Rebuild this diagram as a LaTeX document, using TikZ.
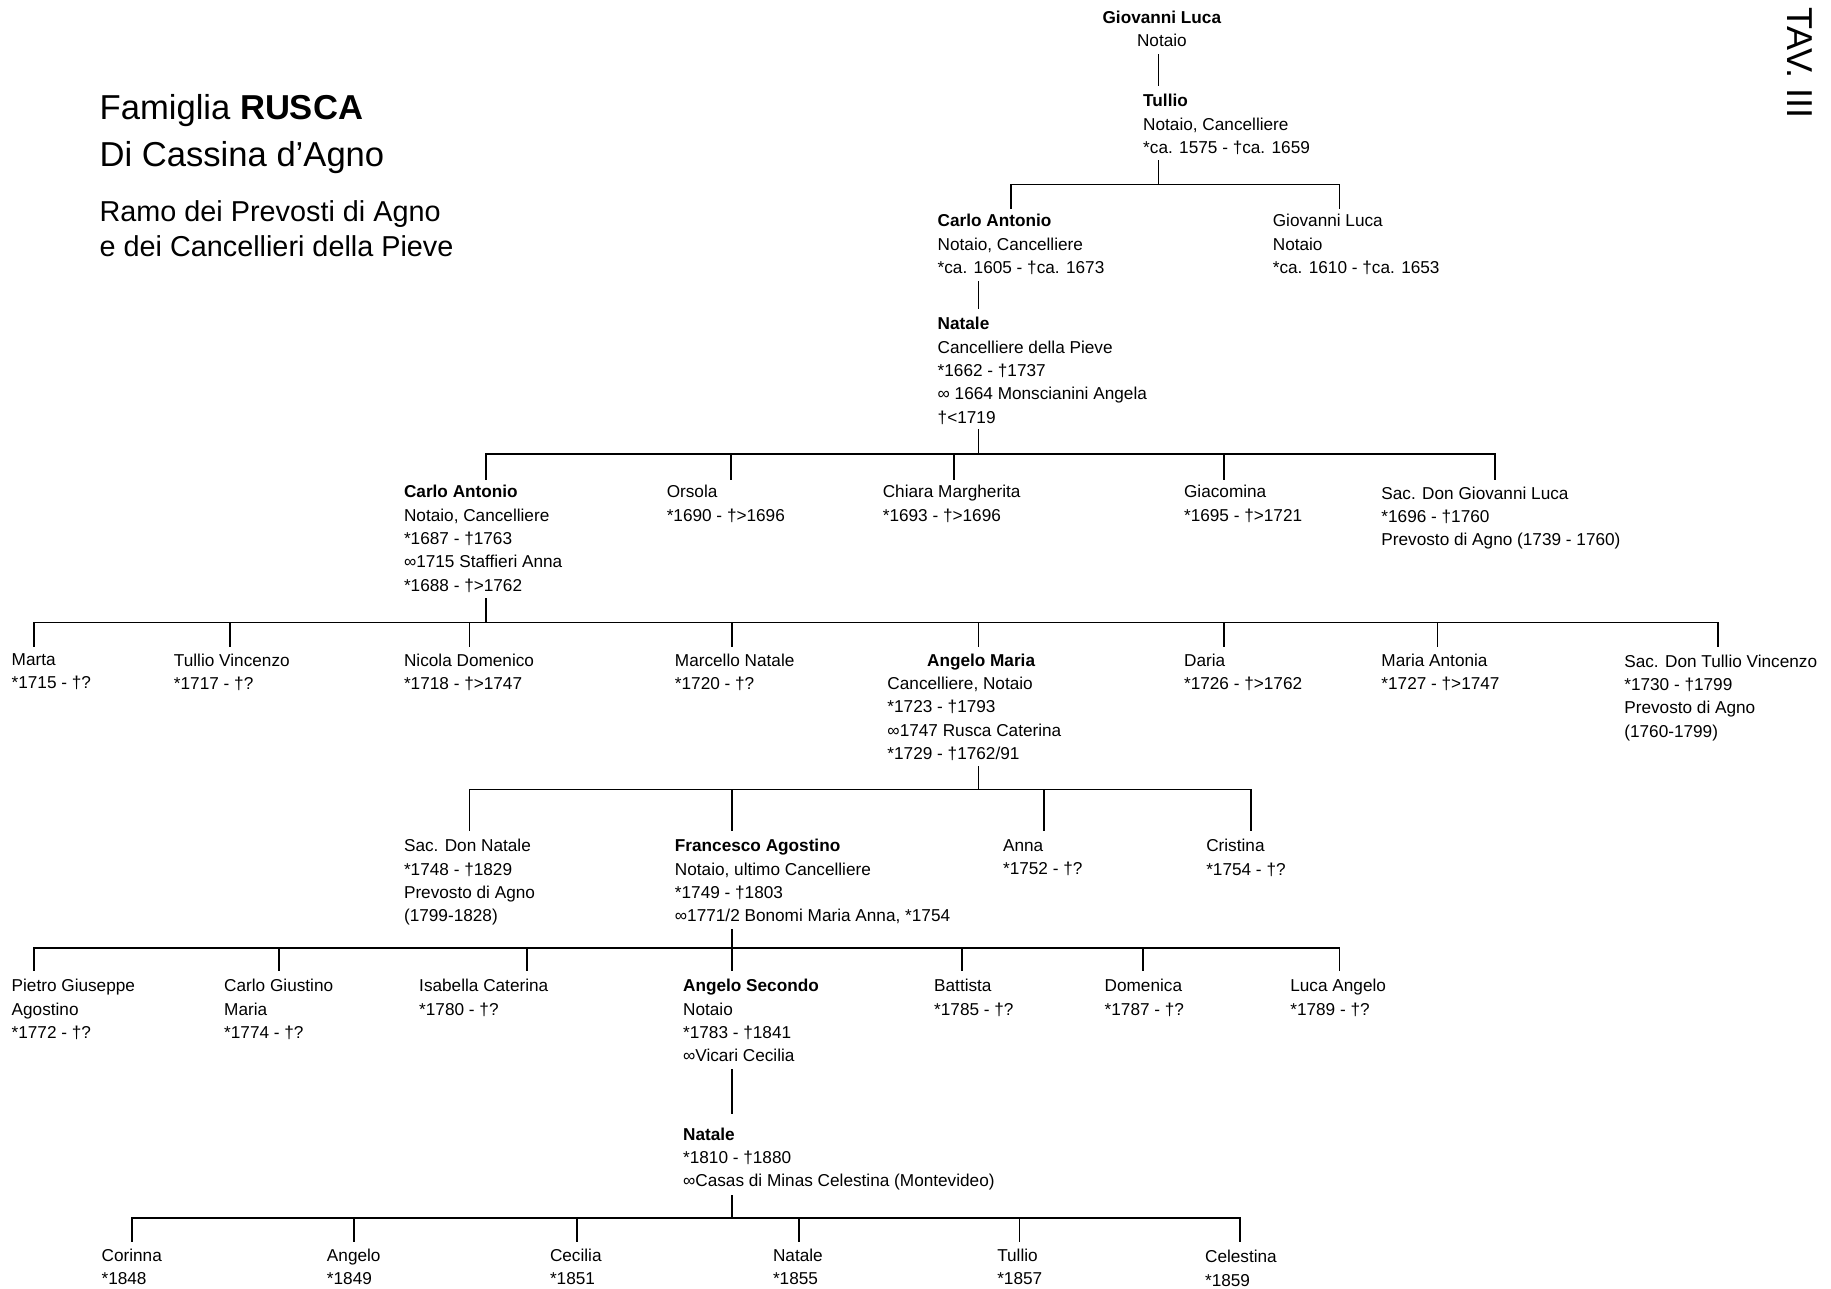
\documentclass[tikz,border=0pt]{standalone}
\usepackage{fontspec}
\setmainfont{Liberation Sans}
\newcommand\bodyfont{\fontsize{8.6}{11.68}\selectfont}
\begin{document}
\begin{tikzpicture}[x=0.58385pt,y=-0.58385pt,
  person/.style={anchor=north west,inner sep=0pt,outer sep=0pt,align=left,font=\bodyfont},
  conn/.style={line width=0.9pt,line cap=rect}]
\useasboundingbox (0,0) rectangle (1568,1103);

% titles
\node[anchor=north west,inner sep=0pt,align=left,font=\fontsize{17.3}{23.35}\selectfont] (title) at (85,80.4) {Famiglia \textbf{RUSCA}\\Di Cassina d’Agno};
\node[anchor=north west,inner sep=0pt,align=left,font=\fontsize{14.4}{17.5}\selectfont] (subtitle) at (85,171.2) {Ramo dei Prevosti di Agno\\e dei Cancellieri della Pieve};
\node[rotate=-90,inner sep=0pt,font=\fontsize{18}{20}\selectfont] (tav) at (1541,54) {TAV. III};

% generation 1-3
\node[anchor=north,inner sep=0pt,align=center,font=\bodyfont] (gl1) at (995,8.7) {\textbf{Giovanni Luca}\\Notaio};
\node[person] (tul) at (979,80.7) {\textbf{Tullio}\\Notaio, Cancelliere\\*ca. 1575 - †ca. 1659};
\node[person] (ca1) at (803,183.7) {\textbf{Carlo Antonio}\\Notaio, Cancelliere\\*ca. 1605 - †ca. 1673};
\node[person] (gl2) at (1090,183.7) {Giovanni Luca\\Notaio\\*ca. 1610 - †ca. 1653};
\node[person] (nat1) at (803,271.7) {\textbf{Natale}\\Cancelliere della Pieve\\*1662 - †1737\\∞ 1664 Monscianini Angela\\†<1719};

% generation 4
\node[person] (ca2) at (346,415.7) {\textbf{Carlo Antonio}\\Notaio, Cancelliere\\*1687 - †1763\\∞1715 Staffieri Anna\\*1688 - †>1762};
\node[person] (ors) at (571,415.7) {Orsola\\*1690 - †>1696};
\node[person] (chm) at (756,415.7) {Chiara Margherita\\*1693 - †>1696};
\node[person] (gia) at (1014,415.7) {Giacomina\\*1695 - †>1721};
\node[person] (sgl) at (1183,416.7) {Sac. Don Giovanni Luca\\*1696 - †1760\\Prevosto di Agno (1739 - 1760)};

% generation 5
\node[person] (mar) at (10,559.7) {Marta\\*1715 - †?};
\node[person] (tv) at (149,559.7) {Tullio Vincenzo\\*1717 - †?};
\node[person] (nd) at (346,559.7) {Nicola Domenico\\*1718 - †>1747};
\node[person] (mn) at (578,559.7) {Marcello Natale\\*1720 - †?};
\node[person] (am) at (760,559.7) {\hspace*{19.8pt}\textbf{Angelo Maria}\\Cancelliere, Notaio\\*1723 - †1793\\∞1747 Rusca Caterina\\*1729 - †1762/91};
\node[person] (dar) at (1014,559.7) {Daria\\*1726 - †>1762};
\node[person] (ma) at (1183,559.7) {Maria Antonia\\*1727 - †>1747};
\node[person] (stv) at (1391,560.7) {Sac. Don Tullio Vincenzo\\*1730 - †1799\\Prevosto di Agno\\(1760-1799)};

% generation 6
\node[person] (sdn) at (346,718.7) {Sac. Don Natale\\*1748 - †1829\\Prevosto di Agno\\(1799-1828)};
\node[person] (fa) at (578,718.7) {\textbf{Francesco Agostino}\\Notaio, ultimo Cancelliere\\*1749 - †1803\\∞1771/2 Bonomi Maria Anna, *1754};
\node[person] (ann) at (859,718.7) {Anna\\*1752 - †?};
\node[person] (cri) at (1033,718.7) {Cristina\\*1754 - †?};

% generation 7
\node[person] (pga) at (10,838.7) {Pietro Giuseppe\\Agostino\\*1772 - †?};
\node[person] (cgm) at (192,838.7) {Carlo Giustino\\Maria\\*1774 - †?};
\node[person] (isc) at (359,838.7) {Isabella Caterina\\*1780 - †?};
\node[person] (as) at (585,838.7) {\textbf{Angelo Secondo}\\Notaio\\*1783 - †1841\\∞Vicari Cecilia};
\node[person] (bat) at (800,838.7) {Battista\\*1785 - †?};
\node[person] (dom) at (946,838.7) {Domenica\\*1787 - †?};
\node[person] (la) at (1105,838.7) {Luca Angelo\\*1789 - †?};

% generation 8
\node[person] (nat2) at (585,965.7) {\textbf{Natale}\\*1810 - †1880\\∞Casas di Minas Celestina (Montevideo)};

% generation 9
\node[person] (cor) at (87,1069.7) {Corinna\\*1848};
\node[person] (ang) at (280,1069.7) {Angelo\\*1849};
\node[person] (cec) at (471,1069.7) {Cecilia\\*1851};
\node[person] (nat3) at (662,1069.7) {Natale\\*1855};
\node[person] (tul2) at (854,1069.7) {Tullio\\*1857};
\node[person] (cel) at (1032,1070.7) {Celestina\\*1859};

% connectors
\draw[conn] (992,47) -- (992,73);
% Tullio's children
\draw[conn] (992,138) -- (992,158);
\draw[conn] (866,178) |- (1147,158) -- (1147,178);
% Carlo Antonio -> Natale
\draw[conn] (838,241) -- (838,264);
% Natale's children
\draw[conn] (838,368) -- (838,389);
\draw[conn] (416,410) |- (1280,389) -- (1280,410);
\foreach \cx in {626,817,1048} {\draw[conn] (\cx,389) -- (\cx,410);}
% Carlo Antonio's children
\draw[conn] (416,513) -- (416,533);
\draw[conn] (29,553) |- (1471,533) -- (1471,553);
\foreach \cx in {197,402,627,838,1048,1231} {\draw[conn] (\cx,533) -- (\cx,553);}
% Angelo Maria's children
\draw[conn] (838,657) -- (838,676);
\draw[conn] (402,711) |- (1071,676) -- (1071,711);
\foreach \cx in {627,894} {\draw[conn] (\cx,676) -- (\cx,711);}
% Francesco Agostino's children
\draw[conn] (627,796) -- (627,831);
\draw[conn] (29,831) |- (1147,812) -- (1147,831);
\foreach \cx in {239,451,824,979} {\draw[conn] (\cx,812) -- (\cx,831);}
% Angelo Secondo -> Natale
\draw[conn] (627,916) -- (627,953);
% Natale's children
\draw[conn] (627,1024) -- (627,1043);
\draw[conn] (113,1063) |- (1062,1043) -- (1062,1063);
\foreach \cx in {303,494,684,873} {\draw[conn] (\cx,1043) -- (\cx,1063);}
\end{tikzpicture}
\end{document}
